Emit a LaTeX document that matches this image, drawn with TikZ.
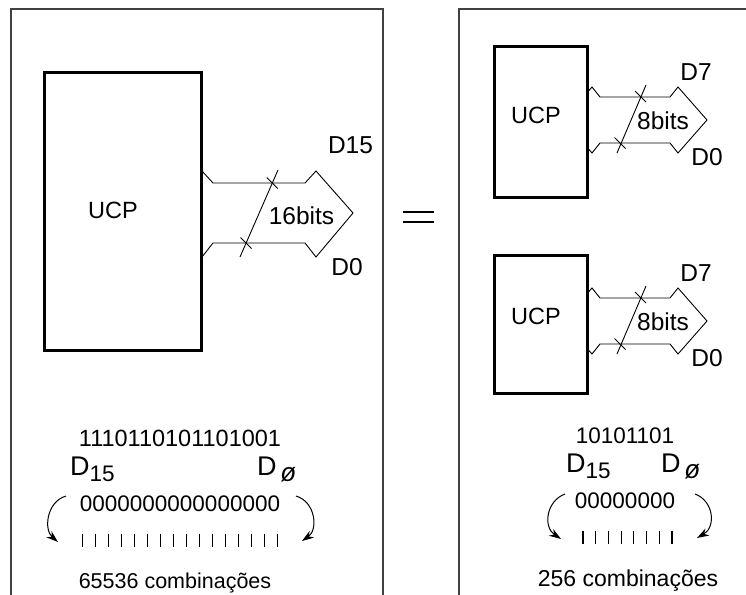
\documentclass[tikz,border=0pt]{standalone}
\usepackage{fontspec}
\setmainfont{Liberation Sans}
\usetikzlibrary{arrows.meta}
\newcommand{\bigD}{{\fontsize{27}{30}\selectfont D}}
\begin{document}
\begin{tikzpicture}[x=1pt,y=-1pt,
  frame/.style={line width=1.3pt, draw=black!75},
  cpu/.style={draw, line width=3pt, fill=white, inner sep=0pt},
  bus/.style={line width=0.9pt, line join=miter},
  tick/.style={line width=0.9pt},
  txt/.style={inner sep=0pt, font=\fontsize{24.5}{28}\selectfont, text height=17.5pt, text depth=0pt},
  ucp/.style={inner sep=0pt, font=\fontsize{23.5}{28}\selectfont, text height=16.8pt, text depth=0pt},
  btxt/.style={inner sep=0pt, font=\fontsize{22.5}{26}\selectfont, text height=16.1pt, text depth=0pt},
  dtxt/.style={inner sep=0pt, font=\fontsize{22.5}{26}\selectfont, text height=19.3pt, text depth=0pt},
  curv/.style={line width=1pt, -{Stealth[length=12pt,width=8pt]}},
  bar/.style={line width=1.2pt},
  eqbar/.style={line width=2pt}
]
\useasboundingbox (0,0) rectangle (746,594);
\fill[white] (0,0) rectangle (746,594);

% frames
\draw[frame] (11,600) -- (11,9) -- (383,9) -- (383,600);
\draw[frame] (459,600) -- (459,9) -- (750,9);

% equals sign
\coordinate (eqA) at (403,212);
\coordinate (eqB) at (434,212);
\coordinate (eqC) at (403,222);
\coordinate (eqD) at (434,222);
\draw[eqbar] (eqA) -- (eqB);
\draw[eqbar] (eqC) -- (eqD);

% ---------- big CPU with 16-bit bus ----------
\draw[bus] (213,183) -- (305,183) -- (316,171) -- (353,213) -- (316,257) -- (305,243)
  -- (213,243) -- (202,257) -- (165,213) -- (202,171) -- cycle;
\node[cpu, minimum width=157pt, minimum height=278pt] (cpuA) at (122.5,211) {};
\node[ucp] (ucpA) at (113,210) {UCP};
\coordinate (sA1) at (278,170);
\coordinate (sA2) at (240,257);
\draw[tick] (sA1) -- (sA2);
\draw[tick] (266.8,177.5) -- (277.8,188.5);
\draw[tick] (240.5,237.5) -- (251.5,248.5);
\node[txt] (d15A) at (350.5,145) {D15};
\node[txt] (bitsA) at (301.5,216) {16bits};
\node[txt] (d0A) at (347,267) {D0};

% ---------- top small CPU ----------
\draw[bus] (600,97) -- (670,97) -- (678,87) -- (707,120) -- (678,153) -- (670,143)
  -- (600,143) -- (592,153) -- (563,120) -- (592,87) -- cycle;
\node[cpu, minimum width=93pt, minimum height=150pt] (cpuB) at (540.5,122) {};
\node[ucp] (ucpB) at (536,115) {UCP};
\coordinate (sB1) at (646,85);
\coordinate (sB2) at (617,153);
\draw[tick] (sB1) -- (sB2);
\draw[tick] (635,91) -- (646,102);
\draw[tick] (614.5,137.5) -- (625.5,148.5);
\node[txt] (d7B) at (696,72) {D7};
\node[txt] (bitsB) at (663,121) {8bits};
\node[txt] (d0B) at (707,157) {D0};

% ---------- bottom small CPU ----------
\begin{scope}[yshift=-201pt]
\draw[bus] (600,97) -- (670,97) -- (678,87) -- (707,120) -- (678,153) -- (670,143)
  -- (600,143) -- (592,153) -- (563,120) -- (592,87) -- cycle;
\node[cpu, minimum width=93pt, minimum height=138pt] (cpuC) at (540.5,123) {};
\node[ucp] (ucpC) at (536,115) {UCP};
\coordinate (sC1) at (646,85);
\coordinate (sC2) at (617,153);
\draw[tick] (sC1) -- (sC2);
\draw[tick] (635,91) -- (646,102);
\draw[tick] (614.5,137.5) -- (625.5,148.5);
\node[txt] (d7C) at (696,72) {D7};
\node[txt] (bitsC) at (663,121) {8bits};
\node[txt] (d0C) at (707,157) {D0};
\end{scope}

% ---------- bottom-left texts ----------
\node[btxt, font=\fontsize{23.5}{26}\selectfont] (wordA) at (180,438) {1110110101101001};
\node[dtxt, anchor=west] (hiA) at (70,466) {\bigD\raisebox{-6pt}{15}};
\node[dtxt, anchor=west] (loA) at (257,466) {\bigD\,\raisebox{-6pt}{\fontsize{26}{28}\selectfont\itshape ø}};
\node[btxt] (zeroA) at (180,503) {0000000000000000};
\foreach \i in {0,...,15} \draw[bar] ({82.5+13*\i},533.5) -- ({82.5+13*\i},546.5);
\node[btxt, font=\fontsize{21.5}{26}\selectfont] (combA) at (175,580) {65536 combinações};
\coordinate (aL1) at (66,496);
\coordinate (aL2) at (58,542);
\coordinate (aR1) at (296,496);
\coordinate (aR2) at (302,541);
\draw[curv] (aL1) .. controls (46,502) and (44,530) .. (aL2);
\draw[curv] (aR1) .. controls (316,502) and (318,530) .. (aR2);

% ---------- bottom-right texts ----------
\node[btxt] (wordB) at (625,435) {10101101};
\node[dtxt, anchor=west] (hiB) at (566,463) {\bigD\raisebox{-6pt}{15}};
\node[dtxt, anchor=west] (loB) at (661,463) {\bigD\,\raisebox{-6pt}{\fontsize{26}{28}\selectfont\itshape ø}};
\node[btxt] (zeroB) at (625,500) {00000000};
\foreach \i in {0,...,7} \draw[bar] ({583+12.7*\i},530.5) -- ({583+12.7*\i},543.5);
\node[btxt, font=\fontsize{23}{26}\selectfont] (combB) at (628,578) {256 combinações};
\coordinate (bL1) at (565,494);
\coordinate (bL2) at (561,539);
\coordinate (bR1) at (695,494);
\coordinate (bR2) at (697,538);
\draw[curv] (bL1) .. controls (546,501) and (543,527) .. (bL2);
\draw[curv] (bR1) .. controls (714,501) and (716,527) .. (bR2);
\end{tikzpicture}
\end{document}
